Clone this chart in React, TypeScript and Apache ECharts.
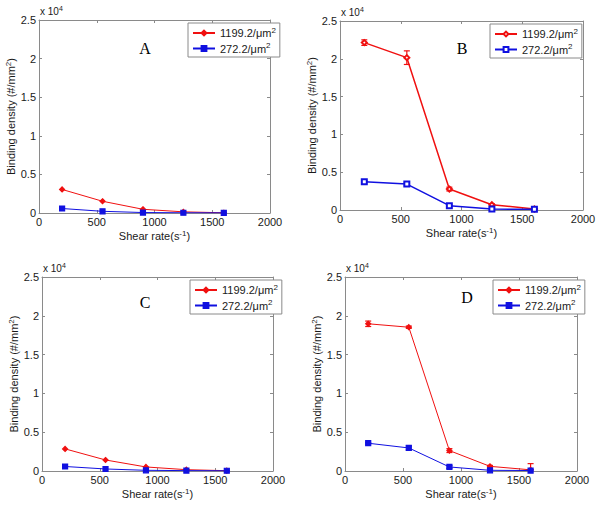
import React, { useEffect, useRef } from "react";
import * as echarts from "echarts";

const shearRates = [200, 550, 900, 1250, 1600];
const xTicks = [0, 500, 1000, 1500, 2000];
const yTicks = [0, 5000, 10000, 15000, 20000, 25000];

const highA = [3050, 1520, 480, 150, 30];
const lowA = [580, 220, 60, 30, 20];

const highB = [22140, 20150, 2770, 700, 130];
const highErrB = [370, 900, 250, 120, 80];
const lowB = [3740, 3430, 570, 130, 90];
const lowErrB = [150, 200, 100, 80, 100];

const highC = [2850, 1420, 520, 170, 40];
const lowC = [580, 260, 90, 50, 30];

const highD = [18970, 18530, 2630, 600, 150];
const highErrD = [350, 150, 250, 120, 800];
const lowD = [3580, 2970, 520, 90, 60];
const lowErrD = [100, 250, 180, 60, 100];

const panelLetters = ["A", "B", "C", "D"];
const legendHigh = "1199.2/μm";
const legendLow = "272.2/μm";

const FONT = "Liberation Sans";
const AXIS_COLOR = "#8a8a8a";
const TEXT_COLOR = "#1a1a1a";
const RED = "#f01010";
const BLUE = "#1010e0";

type Panel = {
  grid: { left: number; top: number; width: number; height: number };
  letterPos: [number, number];
  legendPos: [number, number];
  high: number[];
  low: number[];
  highErr: number[] | null;
  lowErr: number[] | null;
  hollow: boolean;
};

const panels: Panel[] = [
  { grid: { left: 39, top: 20, width: 231, height: 193 }, letterPos: [145, 48], legendPos: [188, 23], high: highA, low: lowA, highErr: null, lowErr: null, hollow: false },
  { grid: { left: 340, top: 21, width: 243, height: 189 }, letterPos: [462, 48], legendPos: [490, 24], high: highB, low: lowB, highErr: highErrB, lowErr: lowErrB, hollow: true },
  { grid: { left: 42, top: 277, width: 231, height: 194 }, letterPos: [145, 302], legendPos: [190, 280], high: highC, low: lowC, highErr: null, lowErr: null, hollow: false },
  { grid: { left: 345, top: 277, width: 232, height: 194 }, letterPos: [467, 297], legendPos: [493, 280], high: highD, low: lowD, highErr: highErrD, lowErr: lowErrD, hollow: false },
];

const supRich = {
  a: { fontSize: 11, fontFamily: FONT, color: TEXT_COLOR, lineHeight: 14 },
  s: { fontSize: 8, fontFamily: FONT, color: TEXT_COLOR, lineHeight: 14, verticalAlign: "top" as const },
};

function errorSeries(name: string, idx: number, vals: number[], errs: number[], color: string) {
  return {
    type: "custom",
    name,
    xAxisIndex: idx * 2,
    yAxisIndex: idx * 2,
    clip: true,
    z: 3,
    data: shearRates.map((x, i) => [x, vals[i], errs[i]]),
    renderItem: (_params: any, api: any) => {
      const x = api.value(0);
      const y = api.value(1);
      const e = api.value(2);
      const top = api.coord([x, y + e]);
      const bot = api.coord([x, y - e]);
      const cw = 3;
      const st = { stroke: color, lineWidth: 1.2 };
      return {
        type: "group",
        children: [
          { type: "line", shape: { x1: top[0], y1: top[1], x2: bot[0], y2: bot[1] }, style: st },
          { type: "line", shape: { x1: top[0] - cw, y1: top[1], x2: top[0] + cw, y2: top[1] }, style: st },
          { type: "line", shape: { x1: bot[0] - cw, y1: bot[1], x2: bot[0] + cw, y2: bot[1] }, style: st },
        ],
      };
    },
  };
}

export default function App() {
  const ref = useRef<HTMLDivElement>(null);
  useEffect(() => {
    if (!ref.current) return;
    const chart = echarts.init(ref.current, null, { renderer: "svg" });
    const grids: any[] = [];
    const xAxes: any[] = [];
    const yAxes: any[] = [];
    const series: any[] = [];
    const legends: any[] = [];
    const graphics: any[] = [];

    panels.forEach((p, i) => {
      grids.push({ ...p.grid, show: false });
      const common = {
        type: "value",
        gridIndex: i,
        splitLine: { show: false },
        axisLine: { show: true, onZero: false, lineStyle: { color: AXIS_COLOR, width: 1 } },
        axisTick: { show: true, inside: true, length: 3, lineStyle: { color: AXIS_COLOR } },
      };
      xAxes.push({
        ...common,
        position: "bottom",
        min: xTicks[0],
        max: xTicks[xTicks.length - 1],
        interval: xTicks[1] - xTicks[0],
        axisLabel: { show: true, fontSize: 11, fontFamily: FONT, color: TEXT_COLOR, margin: 3, formatter: (v: number) => String(v) },
        name: "{a|Shear rate(s}{s|-1}{a|)}",
        nameLocation: "middle",
        nameGap: 16,
        nameTextStyle: { rich: supRich },
      });
      xAxes.push({
        ...common,
        position: "top",
        min: xTicks[0],
        max: xTicks[xTicks.length - 1],
        interval: xTicks[1] - xTicks[0],
        axisLabel: { show: false },
      });
      yAxes.push({
        ...common,
        position: "left",
        min: yTicks[0],
        max: yTicks[yTicks.length - 1],
        interval: yTicks[1] - yTicks[0],
        axisLabel: {
          show: true,
          fontSize: 11,
          fontFamily: FONT,
          color: TEXT_COLOR,
          margin: 3,
          formatter: (v: number) => String(v / 10000),
        },
        name: "{a|Binding density (#/mm}{s|2}{a|)}",
        nameLocation: "middle",
        nameGap: 19,
        nameRotate: 90,
        nameTextStyle: { rich: supRich },
      });
      yAxes.push({
        ...common,
        position: "right",
        min: yTicks[0],
        max: yTicks[yTicks.length - 1],
        interval: yTicks[1] - yTicks[0],
        axisLabel: { show: false },
      });

      const hiName = "high-" + panelLetters[i];
      const loName = "low-" + panelLetters[i];
      if (p.highErr) series.push(errorSeries("err-" + hiName, i, p.high, p.highErr, RED));
      if (p.lowErr) series.push(errorSeries("err-" + loName, i, p.low, p.lowErr, BLUE));
      series.push({
        type: "line",
        name: hiName,
        xAxisIndex: i * 2,
        yAxisIndex: i * 2,
        data: shearRates.map((x, k) => [x, p.high[k]]),
        symbol: p.hollow ? "emptyDiamond" : "diamond",
        symbolSize: 5,
        lineStyle: { color: RED, width: p.hollow ? 1.5 : 1 },
        itemStyle: { color: RED, borderColor: RED, borderWidth: 1.2 },
        z: 4,
      });
      series.push({
        type: "line",
        name: loName,
        xAxisIndex: i * 2,
        yAxisIndex: i * 2,
        data: shearRates.map((x, k) => [x, p.low[k]]),
        symbol: p.hollow ? "emptyRect" : "rect",
        symbolSize: 5,
        lineStyle: { color: BLUE, width: p.hollow ? 1.5 : 1 },
        itemStyle: { color: BLUE, borderColor: BLUE, borderWidth: 1.2 },
        z: 4,
      });

      legends.push({
        left: p.legendPos[0],
        top: p.legendPos[1],
        orient: "vertical",
        data: [hiName, loName],
        backgroundColor: "#fff",
        borderColor: AXIS_COLOR,
        borderWidth: 1,
        padding: [3, 4, 3, 4],
        itemGap: 3,
        itemWidth: 22,
        itemHeight: 6,
        selectedMode: false,
        formatter: (n: string) => (n.startsWith("high") ? `{a|${legendHigh}}{s|2}` : `{a|${legendLow}}{s|2}`),
        textStyle: { rich: supRich, padding: [0, 0, 0, 0] },
      });

      graphics.push({
        type: "text",
        left: p.grid.left + 1,
        top: p.grid.top - 15,
        style: {
          text: "{a|x 10}{s|4}",
          rich: {
            a: { fontSize: 10, fontFamily: FONT, fill: TEXT_COLOR, lineHeight: 13 },
            s: { fontSize: 7, fontFamily: FONT, fill: TEXT_COLOR, lineHeight: 13, verticalAlign: "top" },
          },
        },
      });
      graphics.push({
        type: "text",
        x: p.letterPos[0],
        y: p.letterPos[1],
        style: {
          text: panelLetters[i],
          fontSize: 16,
          fontFamily: "Liberation Serif",
          fill: "#000",
          align: "center",
          verticalAlign: "middle",
        },
      });
    });

    chart.setOption({
      animation: false,
      backgroundColor: "#fff",
      grid: grids,
      xAxis: xAxes,
      yAxis: yAxes,
      legend: legends,
      series,
      graphic: graphics,
    });
    return () => chart.dispose();
  }, []);
  return (
    <div
      ref={ref}
      style={{ position: "fixed", left: 0, top: 0, width: 600, height: 505, background: "#fff" }}
    />
  );
}
